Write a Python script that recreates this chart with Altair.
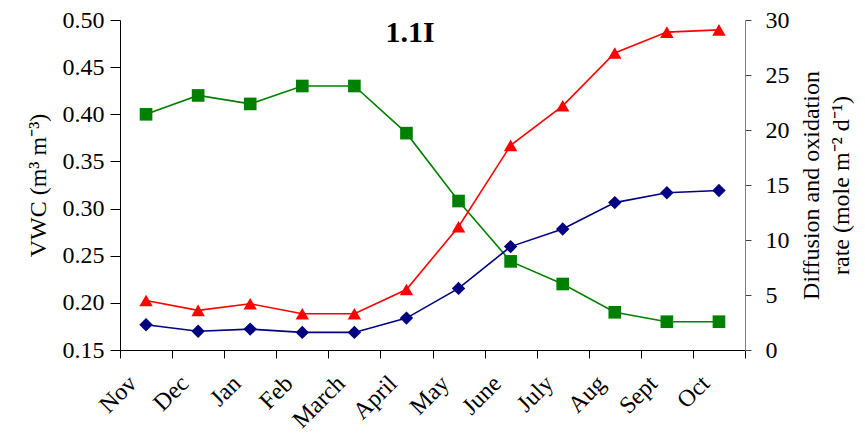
import altair as alt
import pandas as pd

months = ["Nov", "Dec", "Jan", "Feb", "March", "April", "May", "June", "July", "Aug", "Sept", "Oct"]
vwc = [0.400, 0.420, 0.411, 0.430, 0.430, 0.380, 0.308, 0.244, 0.220, 0.190, 0.180, 0.180]
rate_red = [4.5, 3.6, 4.2, 3.3, 3.3, 5.5, 11.2, 18.6, 22.2, 27.0, 28.9, 29.1]
rate_blue = [2.3, 1.7, 1.9, 1.6, 1.6, 2.9, 5.6, 9.4, 11.0, 13.4, 14.3, 14.5]
title_text = ["1.1I"]

df = pd.DataFrame({"month": months, "vwc": vwc, "red": rate_red, "blue": rate_blue})

FONT = "Liberation Serif"
FS = 24

x_enc = alt.X(
    "month:N",
    sort=months,
    bandPosition=0.5,
    scale=alt.Scale(type="band", paddingInner=0, paddingOuter=0),
    axis=alt.Axis(
        title=None,
        labelAngle=-45,
        labelAlign="right",
        labelBaseline="top",
        labelFont=FONT,
        labelFontSize=FS,
        labelColor="black",
        labelPadding=13,
        labelOffset=-22,
        tickBand="extent",
        tickSize=8,
        tickColor="black",
        domainColor="black",
        labelOverlap=False,
    ),
)

base = alt.Chart(df)

y_left = alt.Y(
    "vwc:Q",
    scale=alt.Scale(domain=[0.15, 0.50], nice=False, zero=False),
    axis=alt.Axis(
        orient="left",
        title="VWC (m³ m⁻³)",
        values=[0.15, 0.20, 0.25, 0.30, 0.35, 0.40, 0.45, 0.50],
        format=".2f",
        labelFont=FONT,
        labelFontSize=FS,
        labelColor="black",
        titleFont=FONT,
        titleFontSize=FS,
        titleFontWeight="normal",
        titleColor="black",
        titlePadding=12,
        tickSize=10,
        tickColor="black",
        domainColor="black",
        labelPadding=6,
    ),
)

green_line = base.mark_line(color="#008000", strokeWidth=1.6).encode(x=x_enc, y=y_left)
green_pts = base.mark_point(shape="square", filled=True, size=160, color="#008000", opacity=1).encode(x=x_enc, y=y_left)
green_layer = alt.layer(green_line, green_pts)

y_right = alt.Y(
    "rate:Q",
    scale=alt.Scale(domain=[0, 30], nice=False),
    axis=alt.Axis(
        orient="right",
        title=["Diffusion and oxidation", "rate (mole m⁻² d⁻¹)"],
        titleAngle=-90,
        values=[0, 5, 10, 15, 20, 25, 30],
        labelFont=FONT,
        labelFontSize=FS,
        labelColor="black",
        titleFont=FONT,
        titleFontSize=FS,
        titleFontWeight="normal",
        titleColor="black",
        titlePadding=4,
        titleLineHeight=30,
        tickSize=6,
        tickColor="#404040",
        domainColor="#808080",
        labelPadding=14,
    ),
)

color_enc = alt.Color(
    "series:N",
    scale=alt.Scale(domain=["red", "blue"], range=["#FF0000", "#000080"]),
    legend=None,
)
shape_enc = alt.Shape(
    "series:N",
    scale=alt.Scale(domain=["red", "blue"], range=["triangle-up", "diamond"]),
    legend=None,
)

rate_base = base.transform_fold(["red", "blue"], as_=["series", "rate"])
rate_line = rate_base.mark_line(strokeWidth=1.6).encode(x=x_enc, y=y_right, color=color_enc, detail="series:N")
rate_pts = rate_base.mark_point(filled=True, size=180, opacity=1).encode(
    x=x_enc, y=y_right, color=color_enc, shape=shape_enc
)
rate_layer = alt.layer(rate_line, rate_pts)

title_layer = alt.Chart(pd.DataFrame({"t": title_text})).mark_text(
    font=FONT, fontSize=30, fontWeight="bold", align="center", baseline="top", color="black"
).encode(text="t:N", x=alt.value(290), y=alt.value(-2))

chart = (
    alt.layer(green_layer, rate_layer, title_layer)
    .resolve_scale(y="independent", color="independent", shape="independent")
    .properties(
        width=625,
        height=330,
        autosize=alt.AutoSizeParams(type="none"),
        padding={"left": 112, "top": 12, "right": 110, "bottom": 88},
    )
    .configure_view(stroke=None)
    .configure_axis(grid=False)
)

chart.save("out.html", embed_options={"renderer": "svg", "actions": False})
